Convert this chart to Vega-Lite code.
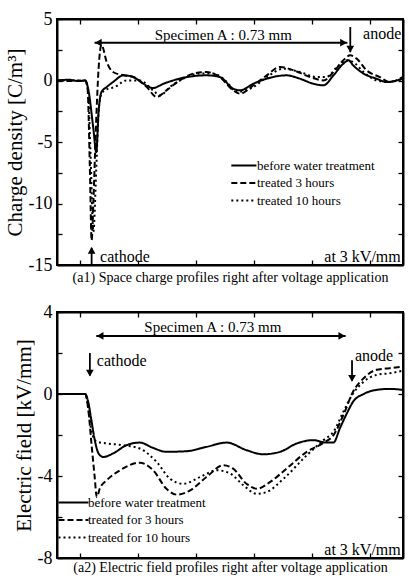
{
  "$schema": "https://vega.github.io/schema/vega-lite/v6.json",
  "padding": {"left": 3, "top": 9, "right": 0, "bottom": 0},
  "background": "white",
  "spacing": 16,
  "config": {
    "font": "Liberation Serif",
    "view": {"stroke": "black", "strokeWidth": 2},
    "axis": {"domainColor": "black", "domainWidth": 2, "tickColor": "black", "tickWidth": 1.3, "grid": false, "labelColor": "black", "titleColor": "black", "labelFont": "Liberation Serif", "titleFont": "Liberation Serif", "titleFontWeight": "normal", "labelOverlap": false},
    "legend": {"labelFont": "Liberation Serif", "labelColor": "black", "padding": 0}
  },
  "resolve": {"scale": {"strokeDash": "independent"}, "legend": {"strokeDash": "independent"}},
  "datasets": {
    "charge": [
      {"s":"before water treatment","x":-0.39,"y":0},{"s":"before water treatment","x":-0.2,"y":0.06},{"s":"before water treatment","x":0.0,"y":-0.05},{"s":"before water treatment","x":0.09,"y":0},{"s":"before water treatment","x":0.14,"y":-0.66},{"s":"before water treatment","x":0.23,"y":-3.92},{"s":"before water treatment","x":0.28,"y":-5.83},{"s":"before water treatment","x":0.32,"y":-2.56},{"s":"before water treatment","x":0.37,"y":-0.93},{"s":"before water treatment","x":0.46,"y":-0.53},{"s":"before water treatment","x":0.57,"y":-0.12},{"s":"before water treatment","x":0.75,"y":0.42},{"s":"before water treatment","x":0.92,"y":0.28},{"s":"before water treatment","x":1.09,"y":-0.26},{"s":"before water treatment","x":1.26,"y":-0.61},{"s":"before water treatment","x":1.44,"y":-0.26},{"s":"before water treatment","x":1.61,"y":0.01},{"s":"before water treatment","x":1.84,"y":0.28},{"s":"before water treatment","x":2.18,"y":0.42},{"s":"before water treatment","x":2.41,"y":0.28},{"s":"before water treatment","x":2.64,"y":-0.66},{"s":"before water treatment","x":2.76,"y":-0.8},{"s":"before water treatment","x":2.99,"y":-0.26},{"s":"before water treatment","x":3.22,"y":0.15},{"s":"before water treatment","x":3.56,"y":0.42},{"s":"before water treatment","x":3.79,"y":0.15},{"s":"before water treatment","x":4.02,"y":-0.26},{"s":"before water treatment","x":4.2,"y":-0.39},{"s":"before water treatment","x":4.37,"y":0.42},{"s":"before water treatment","x":4.54,"y":1.37},{"s":"before water treatment","x":4.63,"y":1.64},{"s":"before water treatment","x":4.71,"y":1.23},{"s":"before water treatment","x":4.89,"y":0.56},{"s":"before water treatment","x":5.11,"y":0.15},{"s":"before water treatment","x":5.29,"y":-0.12},{"s":"before water treatment","x":5.56,"y":0.15},
      {"s":"treated 3 hours","x":-0.39,"y":0},{"s":"treated 3 hours","x":-0.15,"y":-0.05},{"s":"treated 3 hours","x":0.09,"y":0},{"s":"treated 3 hours","x":0.13,"y":-0.66},{"s":"treated 3 hours","x":0.17,"y":-7.17},{"s":"treated 3 hours","x":0.2,"y":-13.0},{"s":"treated 3 hours","x":0.23,"y":-9.88},{"s":"treated 3 hours","x":0.28,"y":-3.1},{"s":"treated 3 hours","x":0.32,"y":0.96},{"s":"treated 3 hours","x":0.37,"y":2.9},{"s":"treated 3 hours","x":0.46,"y":1.5},{"s":"treated 3 hours","x":0.57,"y":0.69},{"s":"treated 3 hours","x":0.75,"y":0.42},{"s":"treated 3 hours","x":0.92,"y":0.28},{"s":"treated 3 hours","x":1.15,"y":-0.53},{"s":"treated 3 hours","x":1.32,"y":-1.34},{"s":"treated 3 hours","x":1.49,"y":-0.8},{"s":"treated 3 hours","x":1.72,"y":0.01},{"s":"treated 3 hours","x":1.95,"y":0.56},{"s":"treated 3 hours","x":2.18,"y":0.69},{"s":"treated 3 hours","x":2.41,"y":0.28},{"s":"treated 3 hours","x":2.64,"y":-0.8},{"s":"treated 3 hours","x":2.76,"y":-1.07},{"s":"treated 3 hours","x":2.99,"y":-0.39},{"s":"treated 3 hours","x":3.22,"y":0.42},{"s":"treated 3 hours","x":3.45,"y":1.1},{"s":"treated 3 hours","x":3.68,"y":0.83},{"s":"treated 3 hours","x":3.97,"y":0.28},{"s":"treated 3 hours","x":4.2,"y":0.01},{"s":"treated 3 hours","x":4.37,"y":0.69},{"s":"treated 3 hours","x":4.54,"y":1.64},{"s":"treated 3 hours","x":4.66,"y":2.05},{"s":"treated 3 hours","x":4.77,"y":1.78},{"s":"treated 3 hours","x":4.94,"y":0.83},{"s":"treated 3 hours","x":5.17,"y":0.28},{"s":"treated 3 hours","x":5.34,"y":-0.12},{"s":"treated 3 hours","x":5.56,"y":0.28},
      {"s":"treated 10 hours","x":-0.39,"y":0},{"s":"treated 10 hours","x":0.09,"y":0},{"s":"treated 10 hours","x":0.14,"y":-0.93},{"s":"treated 10 hours","x":0.18,"y":-5.83},{"s":"treated 10 hours","x":0.23,"y":-12.3},{"s":"treated 10 hours","x":0.28,"y":-7.17},{"s":"treated 10 hours","x":0.32,"y":-2.56},{"s":"treated 10 hours","x":0.37,"y":-1.07},{"s":"treated 10 hours","x":0.46,"y":-0.72},{"s":"treated 10 hours","x":0.6,"y":-0.53},{"s":"treated 10 hours","x":0.8,"y":0.01},{"s":"treated 10 hours","x":1.03,"y":0.01},{"s":"treated 10 hours","x":1.26,"y":-0.8},{"s":"treated 10 hours","x":1.38,"y":-1.21},{"s":"treated 10 hours","x":1.55,"y":-0.53},{"s":"treated 10 hours","x":1.78,"y":0.15},{"s":"treated 10 hours","x":2.07,"y":0.56},{"s":"treated 10 hours","x":2.3,"y":0.56},{"s":"treated 10 hours","x":2.53,"y":-0.12},{"s":"treated 10 hours","x":2.7,"y":-0.93},{"s":"treated 10 hours","x":2.99,"y":-0.53},{"s":"treated 10 hours","x":3.22,"y":0.28},{"s":"treated 10 hours","x":3.51,"y":0.96},{"s":"treated 10 hours","x":3.79,"y":0.69},{"s":"treated 10 hours","x":4.08,"y":0.28},{"s":"treated 10 hours","x":4.25,"y":0.28},{"s":"treated 10 hours","x":4.43,"y":1.1},{"s":"treated 10 hours","x":4.6,"y":1.64},{"s":"treated 10 hours","x":4.71,"y":1.5},{"s":"treated 10 hours","x":4.89,"y":0.69},{"s":"treated 10 hours","x":5.11,"y":0.01},{"s":"treated 10 hours","x":5.34,"y":-0.12},{"s":"treated 10 hours","x":5.56,"y":0.15}
    ],
    "field": [
      {"s":"before water treatment","x":-0.39,"y":0},{"s":"before water treatment","x":0.09,"y":0},{"s":"before water treatment","x":0.14,"y":-0.37},{"s":"before water treatment","x":0.2,"y":-1.35},{"s":"before water treatment","x":0.26,"y":-2.33},{"s":"before water treatment","x":0.32,"y":-2.9},{"s":"before water treatment","x":0.4,"y":-3.07},{"s":"before water treatment","x":0.57,"y":-2.9},{"s":"before water treatment","x":0.8,"y":-2.5},{"s":"before water treatment","x":1.03,"y":-2.37},{"s":"before water treatment","x":1.26,"y":-2.63},{"s":"before water treatment","x":1.49,"y":-2.82},{"s":"before water treatment","x":1.84,"y":-2.79},{"s":"before water treatment","x":2.18,"y":-2.58},{"s":"before water treatment","x":2.53,"y":-2.37},{"s":"before water treatment","x":2.87,"y":-2.74},{"s":"before water treatment","x":3.16,"y":-2.94},{"s":"before water treatment","x":3.45,"y":-2.82},{"s":"before water treatment","x":3.74,"y":-2.41},{"s":"before water treatment","x":4.02,"y":-2.25},{"s":"before water treatment","x":4.25,"y":-2.37},{"s":"before water treatment","x":4.37,"y":-2.37},{"s":"before water treatment","x":4.48,"y":-1.68},{"s":"before water treatment","x":4.6,"y":-0.95},{"s":"before water treatment","x":4.71,"y":-0.37},{"s":"before water treatment","x":4.89,"y":0},{"s":"before water treatment","x":5.11,"y":0.2},{"s":"before water treatment","x":5.34,"y":0.25},{"s":"before water treatment","x":5.56,"y":0.2},
      {"s":"treated for 3 hours","x":-0.39,"y":0},{"s":"treated for 3 hours","x":0.09,"y":0},{"s":"treated for 3 hours","x":0.14,"y":-0.7},{"s":"treated for 3 hours","x":0.2,"y":-2.5},{"s":"treated for 3 hours","x":0.25,"y":-3.97},{"s":"treated for 3 hours","x":0.29,"y":-5.03},{"s":"treated for 3 hours","x":0.34,"y":-4.62},{"s":"treated for 3 hours","x":0.46,"y":-4.21},{"s":"treated for 3 hours","x":0.69,"y":-3.72},{"s":"treated for 3 hours","x":1.03,"y":-3.35},{"s":"treated for 3 hours","x":1.26,"y":-3.72},{"s":"treated for 3 hours","x":1.49,"y":-4.62},{"s":"treated for 3 hours","x":1.67,"y":-4.91},{"s":"treated for 3 hours","x":1.9,"y":-4.7},{"s":"treated for 3 hours","x":2.18,"y":-4.05},{"s":"treated for 3 hours","x":2.47,"y":-3.48},{"s":"treated for 3 hours","x":2.64,"y":-3.64},{"s":"treated for 3 hours","x":2.87,"y":-4.38},{"s":"treated for 3 hours","x":3.05,"y":-4.62},{"s":"treated for 3 hours","x":3.28,"y":-4.29},{"s":"treated for 3 hours","x":3.56,"y":-3.64},{"s":"treated for 3 hours","x":3.91,"y":-2.82},{"s":"treated for 3 hours","x":4.2,"y":-2.38},{"s":"treated for 3 hours","x":4.37,"y":-2.01},{"s":"treated for 3 hours","x":4.54,"y":-1.03},{"s":"treated for 3 hours","x":4.71,"y":0.12},{"s":"treated for 3 hours","x":4.89,"y":0.77},{"s":"treated for 3 hours","x":5.11,"y":1.18},{"s":"treated for 3 hours","x":5.34,"y":1.26},{"s":"treated for 3 hours","x":5.56,"y":1.34},
      {"s":"treated for 10 hours","x":-0.39,"y":0},{"s":"treated for 10 hours","x":0.09,"y":0},{"s":"treated for 10 hours","x":0.14,"y":-0.62},{"s":"treated for 10 hours","x":0.2,"y":-1.84},{"s":"treated for 10 hours","x":0.29,"y":-2.33},{"s":"treated for 10 hours","x":0.46,"y":-2.41},{"s":"treated for 10 hours","x":0.75,"y":-2.5},{"s":"treated for 10 hours","x":1.03,"y":-2.66},{"s":"treated for 10 hours","x":1.32,"y":-3.31},{"s":"treated for 10 hours","x":1.55,"y":-4.13},{"s":"treated for 10 hours","x":1.78,"y":-4.38},{"s":"treated for 10 hours","x":2.07,"y":-4.05},{"s":"treated for 10 hours","x":2.36,"y":-3.72},{"s":"treated for 10 hours","x":2.59,"y":-3.88},{"s":"treated for 10 hours","x":2.82,"y":-4.46},{"s":"treated for 10 hours","x":3.05,"y":-4.87},{"s":"treated for 10 hours","x":3.22,"y":-4.78},{"s":"treated for 10 hours","x":3.51,"y":-4.13},{"s":"treated for 10 hours","x":3.91,"y":-2.99},{"s":"treated for 10 hours","x":4.2,"y":-2.25},{"s":"treated for 10 hours","x":4.37,"y":-1.84},{"s":"treated for 10 hours","x":4.54,"y":-0.87},{"s":"treated for 10 hours","x":4.71,"y":0.03},{"s":"treated for 10 hours","x":4.89,"y":0.6},{"s":"treated for 10 hours","x":5.11,"y":0.93},{"s":"treated for 10 hours","x":5.34,"y":1.01},{"s":"treated for 10 hours","x":5.56,"y":1.13}
    ]
  },
  "vconcat": [
    {
      "width": 346,
      "height": 246,
      "resolve": {"axis": {"x": "independent", "y": "independent"}},
      "layer": [
        {
          "data": {"name": "charge"},
          "mark": {"type": "line", "color": "black", "strokeWidth": 2, "interpolate": "monotone", "clip": true},
          "encoding": {
            "x": {"field": "x", "type": "quantitative", "scale": {"domain": [-0.397, 5.569], "nice": false, "zero": false},
                  "axis": {"orient": "bottom", "values": [0, 1, 2, 3, 4, 5], "labels": false, "tickSize": -5, "title": "(a1) Space charge profiles right after voltage application", "titleFontSize": 14, "titlePadding": 5}},
            "y": {"field": "y", "type": "quantitative", "scale": {"domain": [-15, 5], "nice": false},
                  "axis": {"orient": "left", "values": [-15, -12.5, -10, -7.5, -5, -2.5, 0, 2.5, 5], "labelExpr": "datum.value % 5 == 0 ? toString(datum.value) : ''", "tickSize": -5, "labelPadding": 10, "labelFontSize": 18, "title": "Charge density [C/m³]", "titleFontSize": 21, "titlePadding": 3}},
            "strokeDash": {"field": "s", "type": "nominal",
                  "scale": {"domain": ["before water treatment", "treated 3 hours", "treated 10 hours"], "range": [[1, 0], [6, 3], [2, 3]]},
                  "legend": {"orient": "none", "legendX": 172, "legendY": 140, "title": null, "symbolType": "M-1,0H5", "symbolSize": 70, "symbolStrokeColor": "black", "symbolStrokeWidth": 2, "labelFontSize": 13, "labelOffset": 15, "rowPadding": 3.5}}
          }
        },
        {
          "data": {"values": [{"x": 2.47, "y": 3.7, "t": "Specimen A : 0.73 mm"}]},
          "mark": {"type": "text", "fontSize": 15, "align": "center", "baseline": "middle", "color": "black"},
          "encoding": {
            "x": {"field": "x", "type": "quantitative", "scale": {"domain": [-0.397, 5.569], "nice": false, "zero": false}, "axis": {"orient": "top", "values": [0, 1, 2, 3, 4, 5], "labels": false, "tickSize": -5, "title": null}},
            "y": {"field": "y", "type": "quantitative", "axis": {"orient": "right", "values": [-15, -12.5, -10, -7.5, -5, -2.5, 0, 2.5, 5], "labels": false, "tickSize": -5, "title": null}},
            "text": {"field": "t"}
          }
        },
        {
          "data": {"values": [{"x": 5.21, "y": 3.78, "t": "anode"}]},
          "mark": {"type": "text", "fontSize": 16, "align": "center", "baseline": "middle", "color": "black"},
          "encoding": {"x": {"field": "x", "type": "quantitative", "axis": null}, "y": {"field": "y", "type": "quantitative", "axis": null}, "text": {"field": "t"}}
        },
        {
          "data": {"values": [{"x": 0.345, "y": -15, "t": "cathode"}]},
          "mark": {"type": "text", "fontSize": 16, "align": "left", "baseline": "alphabetic", "dy": -3, "color": "black"},
          "encoding": {"x": {"field": "x", "type": "quantitative", "axis": null}, "y": {"field": "y", "type": "quantitative", "axis": null}, "text": {"field": "t"}}
        },
        {
          "data": {"values": [{"x": 5.53, "y": -15, "t": "at 3 kV/mm"}]},
          "mark": {"type": "text", "fontSize": 16, "align": "right", "baseline": "alphabetic", "dy": -3, "color": "black"},
          "encoding": {"x": {"field": "x", "type": "quantitative", "axis": null}, "y": {"field": "y", "type": "quantitative", "axis": null}, "text": {"field": "t"}}
        },
        {
          "data": {"values": [{"x": 0.25, "x2": 4.61, "y": 3.07, "y2": 3.07}, {"x": 4.66, "x2": 4.66, "y": 4.35, "y2": 2.3}, {"x": 0.2, "x2": 0.2, "y": -15, "y2": -13.6}]},
          "mark": {"type": "rule", "color": "black", "strokeWidth": 1.8},
          "encoding": {"x": {"field": "x", "type": "quantitative", "axis": null}, "x2": {"field": "x2"}, "y": {"field": "y", "type": "quantitative", "axis": null}, "y2": {"field": "y2"}}
        },
        {
          "data": {"values": [{"x": 0.23, "y": 3.07}]},
          "mark": {"type": "point", "shape": "triangle-left", "filled": true, "size": 60, "color": "black", "opacity": 1, "xOffset": 5},
          "encoding": {"x": {"field": "x", "type": "quantitative", "axis": null}, "y": {"field": "y", "type": "quantitative", "axis": null}}
        },
        {
          "data": {"values": [{"x": 4.63, "y": 3.07}]},
          "mark": {"type": "point", "shape": "triangle-right", "filled": true, "size": 60, "color": "black", "opacity": 1, "xOffset": -5},
          "encoding": {"x": {"field": "x", "type": "quantitative", "axis": null}, "y": {"field": "y", "type": "quantitative", "axis": null}}
        },
        {
          "data": {"values": [{"x": 4.66, "y": 2.15}]},
          "mark": {"type": "point", "shape": "triangle-down", "filled": true, "size": 60, "color": "black", "opacity": 1, "yOffset": -5},
          "encoding": {"x": {"field": "x", "type": "quantitative", "axis": null}, "y": {"field": "y", "type": "quantitative", "axis": null}}
        },
        {
          "data": {"values": [{"x": 0.2, "y": -13.4}]},
          "mark": {"type": "point", "shape": "triangle-up", "filled": true, "size": 60, "color": "black", "opacity": 1, "yOffset": 5},
          "encoding": {"x": {"field": "x", "type": "quantitative", "axis": null}, "y": {"field": "y", "type": "quantitative", "axis": null}}
        }
      ]
    },
    {
      "width": 346,
      "height": 246,
      "resolve": {"axis": {"x": "independent", "y": "independent"}},
      "layer": [
        {
          "data": {"name": "field"},
          "mark": {"type": "line", "color": "black", "strokeWidth": 2, "interpolate": "monotone", "clip": true},
          "encoding": {
            "x": {"field": "x", "type": "quantitative", "scale": {"domain": [-0.397, 5.569], "nice": false, "zero": false},
                  "axis": {"orient": "bottom", "values": [0, 1, 2, 3, 4, 5], "labels": false, "tickSize": -5, "title": "(a2) Electric field profiles right after voltage application", "titleFontSize": 14, "titlePadding": 2}},
            "y": {"field": "y", "type": "quantitative", "scale": {"domain": [-8, 4], "nice": false},
                  "axis": {"orient": "left", "values": [-8, -6, -4, -2, 0, 2, 4], "labelExpr": "datum.value % 4 == 0 ? toString(datum.value) : ''", "tickSize": -5, "labelPadding": 10, "labelFontSize": 18, "title": "Electric field [kV/mm]", "titleFontSize": 21, "titlePadding": 3}},
            "strokeDash": {"field": "s", "type": "nominal",
                  "scale": {"domain": ["before water treatment", "treated for 3 hours", "treated for 10 hours"], "range": [[1, 0], [6, 3], [2, 3]]},
                  "legend": {"orient": "none", "legendX": 0, "legendY": 184, "title": null, "symbolType": "M-1,0H5", "symbolSize": 100, "symbolStrokeColor": "black", "symbolStrokeWidth": 2, "labelFontSize": 13, "labelOffset": 18, "rowPadding": 3.5}}
          }
        },
        {
          "data": {"values": [{"x": 2.29, "y": 3.27, "t": "Specimen A : 0.73 mm"}]},
          "mark": {"type": "text", "fontSize": 15, "align": "center", "baseline": "middle", "color": "black"},
          "encoding": {
            "x": {"field": "x", "type": "quantitative", "scale": {"domain": [-0.397, 5.569], "nice": false, "zero": false}, "axis": {"orient": "top", "values": [0, 1, 2, 3, 4, 5], "labels": false, "tickSize": -5, "title": null}},
            "y": {"field": "y", "type": "quantitative", "axis": {"orient": "right", "values": [-8, -6, -4, -2, 0, 2, 4], "labels": false, "tickSize": -5, "title": null}},
            "text": {"field": "t"}
          }
        },
        {
          "data": {"values": [{"x": 5.07, "y": 1.85, "t": "anode"}]},
          "mark": {"type": "text", "fontSize": 16, "align": "center", "baseline": "middle", "color": "black"},
          "encoding": {"x": {"field": "x", "type": "quantitative", "axis": null}, "y": {"field": "y", "type": "quantitative", "axis": null}, "text": {"field": "t"}}
        },
        {
          "data": {"values": [{"x": 0.29, "y": 1.6, "t": "cathode"}]},
          "mark": {"type": "text", "fontSize": 16, "align": "left", "baseline": "middle", "color": "black"},
          "encoding": {"x": {"field": "x", "type": "quantitative", "axis": null}, "y": {"field": "y", "type": "quantitative", "axis": null}, "text": {"field": "t"}}
        },
        {
          "data": {"values": [{"x": 5.53, "y": -8, "t": "at 3 kV/mm"}]},
          "mark": {"type": "text", "fontSize": 16, "align": "right", "baseline": "alphabetic", "dy": -3, "color": "black"},
          "encoding": {"x": {"field": "x", "type": "quantitative", "axis": null}, "y": {"field": "y", "type": "quantitative", "axis": null}, "text": {"field": "t"}}
        },
        {
          "data": {"values": [{"x": 0.28, "x2": 4.58, "y": 2.83, "y2": 2.83}, {"x": 0.17, "x2": 0.17, "y": 2.0, "y2": 0.9}, {"x": 4.69, "x2": 4.69, "y": 1.65, "y2": 0.65}]},
          "mark": {"type": "rule", "color": "black", "strokeWidth": 1.8},
          "encoding": {"x": {"field": "x", "type": "quantitative", "axis": null}, "x2": {"field": "x2"}, "y": {"field": "y", "type": "quantitative", "axis": null}, "y2": {"field": "y2"}}
        },
        {
          "data": {"values": [{"x": 0.26, "y": 2.83}]},
          "mark": {"type": "point", "shape": "triangle-left", "filled": true, "size": 60, "color": "black", "opacity": 1, "xOffset": 5},
          "encoding": {"x": {"field": "x", "type": "quantitative", "axis": null}, "y": {"field": "y", "type": "quantitative", "axis": null}}
        },
        {
          "data": {"values": [{"x": 4.6, "y": 2.83}]},
          "mark": {"type": "point", "shape": "triangle-right", "filled": true, "size": 60, "color": "black", "opacity": 1, "xOffset": -5},
          "encoding": {"x": {"field": "x", "type": "quantitative", "axis": null}, "y": {"field": "y", "type": "quantitative", "axis": null}}
        },
        {
          "data": {"values": [{"x": 0.17, "y": 0.77}, {"x": 4.69, "y": 0.52}]},
          "mark": {"type": "point", "shape": "triangle-down", "filled": true, "size": 60, "color": "black", "opacity": 1, "yOffset": -5},
          "encoding": {"x": {"field": "x", "type": "quantitative", "axis": null}, "y": {"field": "y", "type": "quantitative", "axis": null}}
        }
      ]
    }
  ]
}
